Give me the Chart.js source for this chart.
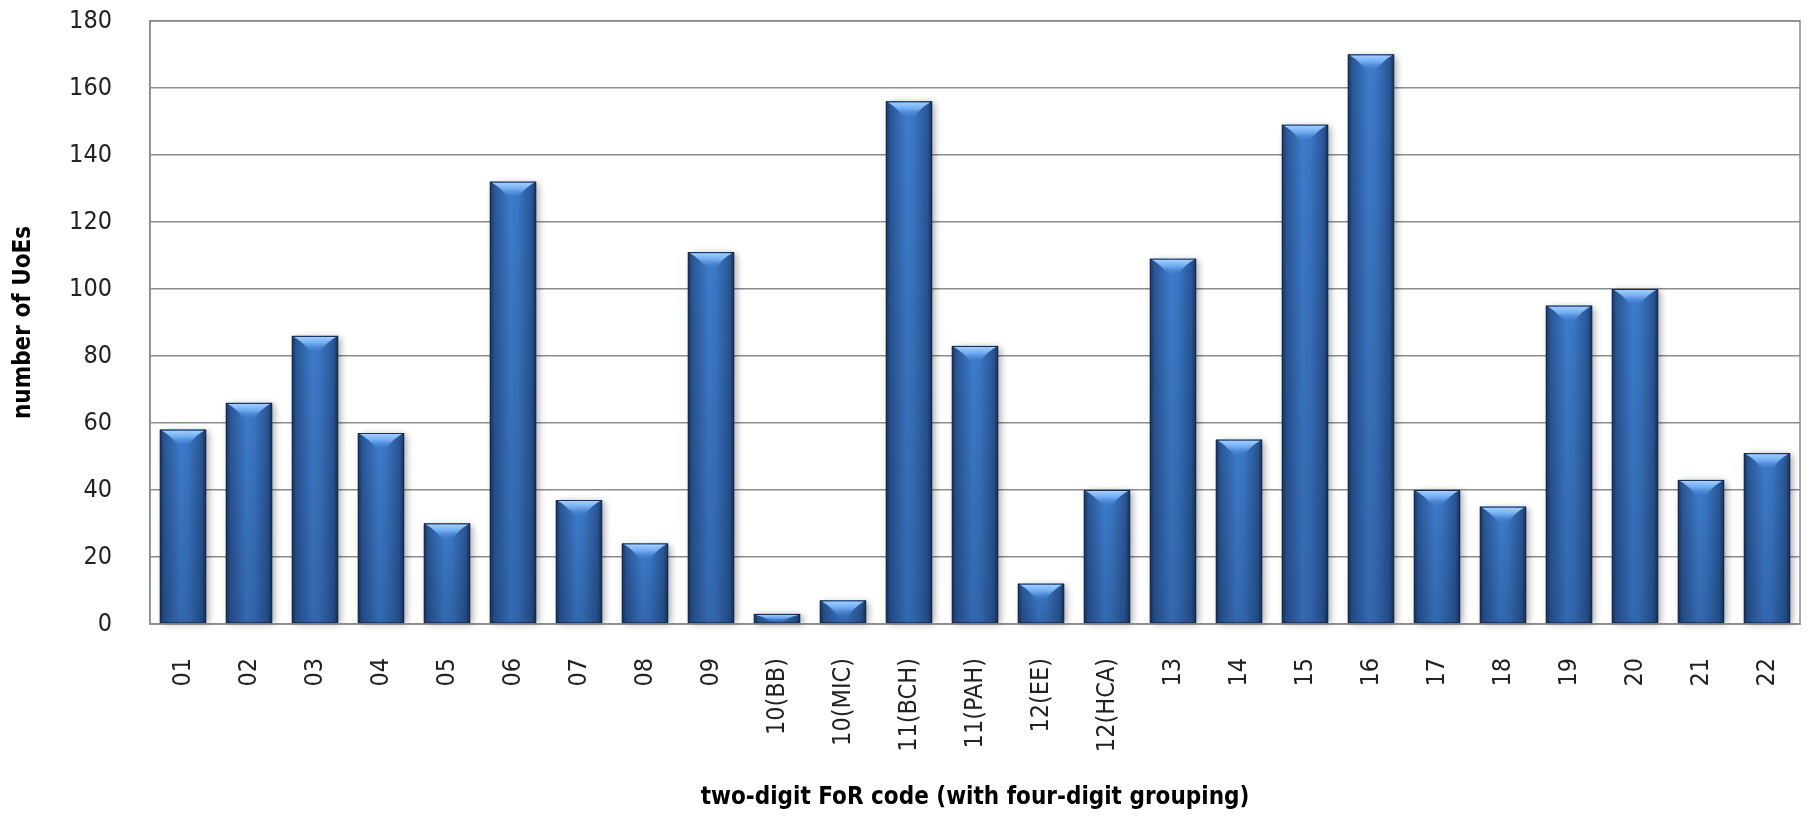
<!DOCTYPE html>
<html>
<head>
<meta charset="utf-8">
<script src="https://cdn.jsdelivr.net/npm/chart.js@4.4.1/dist/chart.umd.min.js"></script>
<style>
  html, body { margin: 0; padding: 0; background: #ffffff; }
  #wrap { width: 1810px; height: 818px; }
</style>
</head>
<body>
<div id="wrap"><canvas id="uoeChart" width="1810" height="818"></canvas></div>
<script>
// codigos FoR (com agrupamento de quatro digitos)
const forCodes = ['01', '02', '03', '04', '05', '06', '07', '08', '09',
    '10(BB)', '10(MIC)', '11(BCH)', '11(PAH)', '12(EE)', '12(HCA)',
    '13', '14', '15', '16', '17', '18', '19', '20', '21', '22'];

// numero de UoEs por codigo
const uoeCounts = [58, 66, 86, 57, 30, 132, 37, 24, 111,
    3, 7, 156, 83, 12, 40,
    109, 55, 149, 170, 40, 35, 95, 100, 43, 51];

// marcas do eixo y
const yTicks = [0, 20, 40, 60, 80, 100, 120, 140, 160, 180];

const fontFamily = "'DejaVu Sans Condensed', 'DejaVu Sans', sans-serif";

// sombra das barras, desenhada antes delas
const barShadow = {
    id: 'barShadow',
    beforeDatasetsDraw(chart) {
        const ctx = chart.ctx;
        const meta = chart.getDatasetMeta(0);
        ctx.save();
        meta.data.forEach(bar => {
            const left = bar.x - bar.width / 2;
            ctx.shadowColor = 'rgba(0, 0, 0, 0.35)';
            ctx.shadowBlur = 7;
            ctx.shadowOffsetX = 3;
            ctx.shadowOffsetY = 1;
            ctx.fillStyle = '#2b5a9c';
            ctx.fillRect(left, bar.y, bar.width, bar.base - bar.y);
        });
        ctx.restore();
    }
};

// gradiente e "tampa" clara no topo, estilo Excel
const barGloss = {
    id: 'barGloss',
    afterDatasetsDraw(chart) {
        const ctx = chart.ctx;
        const meta = chart.getDatasetMeta(0);
        ctx.save();
        meta.data.forEach(bar => {
            const w = bar.width;
            const left = bar.x - w / 2;
            const right = bar.x + w / 2;
            const top = bar.y;
            const h = bar.base - bar.y;

            const g = ctx.createLinearGradient(left, 0, right, 0);
            g.addColorStop(0, '#1b365f');
            g.addColorStop(0.1, '#2a5797');
            g.addColorStop(0.45, '#3d7ccb');
            g.addColorStop(0.6, '#3a77c5');
            g.addColorStop(0.9, '#2a5696');
            g.addColorStop(1, '#19335a');
            ctx.fillStyle = g;
            ctx.fillRect(left, top, w, h);

            const v = ctx.createLinearGradient(0, top, 0, bar.base);
            v.addColorStop(0, 'rgba(0,0,0,0)');
            v.addColorStop(1, 'rgba(5,15,45,0.18)');
            ctx.fillStyle = v;
            ctx.fillRect(left, top, w, h);

            ctx.strokeStyle = 'rgba(20, 40, 75, 0.9)';
            ctx.lineWidth = 1;
            ctx.strokeRect(left + 0.5, top + 0.5, w - 1, h - 1);

            // tampa
            const capH = Math.min(15, h - 2);
            if (capH > 1) {
                const cg = ctx.createLinearGradient(0, top, 0, top + capH);
                cg.addColorStop(0, '#a9d4ff');
                cg.addColorStop(0.5, '#6eaaf0');
                cg.addColorStop(1, 'rgba(70,130,210,0.2)');
                ctx.fillStyle = cg;
                ctx.beginPath();
                ctx.moveTo(left + 2, top + 1);
                ctx.lineTo(right - 2, top + 1);
                ctx.quadraticCurveTo(right - w * 0.22, top + capH * 0.35, bar.x + w * 0.12, top + capH);
                ctx.lineTo(bar.x - w * 0.12, top + capH);
                ctx.quadraticCurveTo(left + w * 0.22, top + capH * 0.35, left + 2, top + 1);
                ctx.closePath();
                ctx.fill();
            }
        });
        ctx.restore();
    }
};

// borda da area do grafico
const plotBorder = {
    id: 'plotBorder',
    afterDraw(chart) {
        const { left, top, right, bottom } = chart.chartArea;
        const ctx = chart.ctx;
        ctx.save();
        ctx.strokeStyle = '#8c8c8c';
        ctx.lineWidth = 1.5;
        ctx.strokeRect(left, top, right - left, bottom - top);
        ctx.restore();
    }
};

const config = {
    type: 'bar',
    data: {
        labels: forCodes,
        datasets: [{
            label: 'number of UoEs',
            data: uoeCounts,
            backgroundColor: '#3a72bf',
            borderWidth: 0,
            categoryPercentage: 1.0,
            barPercentage: 0.7
        }]
    },
    options: {
        responsive: false,
        animation: false,
        layout: {
            padding: { top: 21, right: 10, bottom: 0, left: 0 }
        },
        plugins: {
            legend: { display: false },
            tooltip: { enabled: false }
        },
        scales: {
            x: {
                // marcas invisiveis so para afastar os rotulos do eixo
                grid: {
                    display: true,
                    drawOnChartArea: false,
                    drawTicks: true,
                    tickLength: 28,
                    tickColor: 'rgba(0,0,0,0)',
                    color: 'rgba(0,0,0,0)'
                },
                border: { display: true, color: '#8c8c8c', width: 1.5 },
                ticks: {
                    autoSkip: false,
                    maxRotation: 90,
                    minRotation: 90,
                    padding: 6,
                    color: '#222',
                    font: { family: fontFamily, size: 25 }
                },
                title: {
                    display: true,
                    text: 'two-digit FoR code (with four-digit grouping)',
                    color: '#000',
                    font: { family: fontFamily, size: 24, weight: 'bold' },
                    padding: { top: 0, bottom: 6 }
                },
                afterFit(scale) { scale.height = 194; }
            },
            y: {
                min: 0,
                max: 180,
                afterBuildTicks(scale) {
                    scale.ticks = yTicks.map(v => ({ value: v }));
                },
                grid: {
                    color: '#8c8c8c',
                    lineWidth: 1.5,
                    drawTicks: true,
                    tickLength: 32,
                    tickColor: 'rgba(0,0,0,0)'
                },
                border: { display: true, color: '#8c8c8c', width: 1.5 },
                ticks: {
                    padding: 6,
                    color: '#222',
                    font: { family: fontFamily, size: 25 }
                },
                title: {
                    display: true,
                    text: 'number of UoEs',
                    color: '#000',
                    font: { family: fontFamily, size: 24, weight: 'bold' },
                    padding: { top: 9, bottom: 0 }
                },
                afterFit(scale) { scale.width = 150; }
            }
        }
    },
    plugins: [barShadow, barGloss, plotBorder]
};

const uoeChart = new Chart(document.getElementById('uoeChart'), config);
</script>
</body>
</html>
